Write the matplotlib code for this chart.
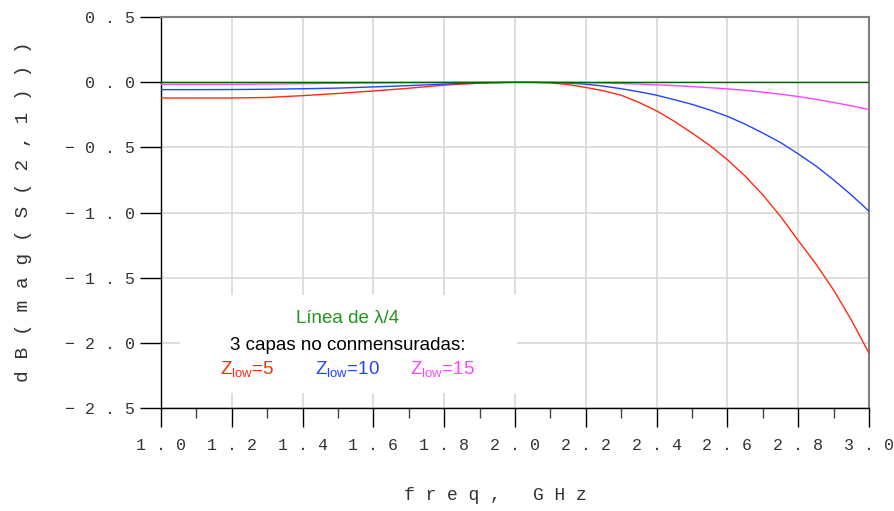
import matplotlib
matplotlib.use("Agg")
from matplotlib import pyplot as plt
from matplotlib.patches import Rectangle
from matplotlib.ticker import FixedLocator, MultipleLocator

# frequency points (GHz): 0.1 steps up to 2.0, 0.05 steps after
freq = [1.0, 1.1, 1.2, 1.3, 1.4, 1.5, 1.6, 1.7, 1.8, 1.9, 2.0,
        2.05, 2.1, 2.15, 2.2, 2.25, 2.3, 2.35, 2.4, 2.45, 2.5,
        2.55, 2.6, 2.65, 2.7, 2.75, 2.8, 2.85, 2.9, 2.95, 3.0]

s21_z5 = [-0.121, -0.121, -0.121, -0.117, -0.103, -0.086, -0.067, -0.046, -0.022, -0.007, 0.0,
          -0.001, -0.005, -0.018, -0.04, -0.066, -0.10, -0.155, -0.22, -0.30, -0.39,
          -0.485, -0.595, -0.72, -0.865, -1.03, -1.215, -1.395, -1.595, -1.825, -2.08]
s21_z10 = [-0.057, -0.057, -0.056, -0.054, -0.050, -0.045, -0.036, -0.026, -0.014, -0.004, 0.0,
           0.0, -0.002, -0.006, -0.015, -0.03, -0.05, -0.073, -0.10, -0.134, -0.17,
           -0.213, -0.262, -0.322, -0.39, -0.463, -0.55, -0.643, -0.75, -0.865, -0.99]
s21_z15 = [-0.016, -0.016, -0.016, -0.014, -0.011, -0.008, -0.005, -0.003, -0.001, 0.0, 0.0,
           0.0, 0.0, -0.001, -0.003, -0.006, -0.01, -0.014, -0.02, -0.026, -0.034,
           -0.042, -0.051, -0.062, -0.076, -0.092, -0.11, -0.131, -0.155, -0.181, -0.21]
s21_lambda4 = [0.0] * len(freq)

xticks = [1.0, 1.2, 1.4, 1.6, 1.8, 2.0, 2.2, 2.4, 2.6, 2.8, 3.0]
xticklabels = ["1 . 0", "1 . 2", "1 . 4", "1 . 6", "1 . 8", "2 . 0",
               "2 . 2", "2 . 4", "2 . 6", "2 . 8", "3 . 0"]
yticks = [-2.5, -2.0, -1.5, -1.0, -0.5, 0.0, 0.5]
yticklabels = ["\u2212 2 . 5", "\u2212 2 . 0", "\u2212 1 . 5", "\u2212 1 . 0",
               "\u2212 0 . 5", "0 . 0", "0 . 5"]

plt.rcParams["mathtext.fontset"] = "custom"
plt.rcParams["mathtext.rm"] = "Liberation Sans"
plt.rcParams["mathtext.it"] = "Liberation Sans:italic"
mono = ["Liberation Mono", "DejaVu Sans Mono"]

fig = plt.figure(figsize=(8.95, 5.11), dpi=100)
ax = fig.add_axes([0.180, 0.2016, 0.791, 0.765])
ax.set_axisbelow(True)

ax.plot(freq, s21_z5, color="#ff2a10", lw=1.0, zorder=3)
ax.plot(freq, s21_z10, color="#2244ff", lw=1.0, zorder=3)
ax.plot(freq, s21_z15, color="#ff44ff", lw=1.0, zorder=3)
ax.plot(freq, s21_lambda4, color="#006400", lw=1.0, zorder=4)

ax.set_xlim(1.0, 3.0)
ax.set_ylim(-2.5, 0.5)
ax.xaxis.set_major_locator(FixedLocator(xticks))
ax.set_xticklabels(xticklabels, family=mono, fontsize=12, color="#333333")
ax.xaxis.set_minor_locator(MultipleLocator(0.1))
ax.yaxis.set_major_locator(FixedLocator(yticks))
ax.set_yticklabels(yticklabels, family=mono, fontsize=12, color="#333333")

ax.tick_params(axis="x", which="major", direction="out", length=13.5, width=1.0,
               color="black", pad=8)
ax.tick_params(axis="x", which="minor", direction="out", length=7, width=1.0,
               color="#444444")
ax.tick_params(axis="y", direction="out", length=15, width=1.0, color="black", pad=4)
ax.yaxis.get_major_ticks()[-1].tick1line.set_color("#808080")

ax.grid(True, which="major", color="#d4d4d4", lw=1.1)
for side in ["left", "bottom"]:
    ax.spines[side].set_color("black")
    ax.spines[side].set_linewidth(1.0)
for side in ["top", "right"]:
    ax.spines[side].set_color("#808080")
    ax.spines[side].set_linewidth(1.5)

fig.text(0.026, 0.585, "d B ( m a g ( S ( 2 , 1 ) ) )", rotation=90,
         ha="center", va="center", family=mono, fontsize=14, color="#333333")
fig.text(0.553, 0.031, "f r e q ,   G H z", ha="center", va="center",
         family=mono, fontsize=13, color="#333333")

# white box behind the annotation
ax.add_patch(Rectangle((0.027, 0.038), 0.476, 0.251, transform=ax.transAxes,
                       facecolor="white", edgecolor="none", zorder=1.5))
sans = ["Liberation Sans", "DejaVu Sans"]
ax.text(0.263, 0.230, "L\u00ednea de \u03bb/4", transform=ax.transAxes, ha="center",
        va="center", fontsize=13.5, color="#1e961e", family=sans, zorder=5)
ax.text(0.263, 0.161, "3 capas no conmensuradas:", transform=ax.transAxes,
        ha="center", va="center", fontsize=13.5, color="black", family=sans, zorder=5)
ax.text(0.122, 0.0997, r"$\mathrm{Z_{low}}$=5", transform=ax.transAxes, ha="center",
        va="center", fontsize=13.5, color="#ff2a10", family=sans, zorder=5)
ax.text(0.263, 0.0997, r"$\mathrm{Z_{low}}$=10", transform=ax.transAxes, ha="center",
        va="center", fontsize=13.5, color="#2244ff", family=sans, zorder=5)
ax.text(0.398, 0.0997, r"$\mathrm{Z_{low}}$=15", transform=ax.transAxes, ha="center",
        va="center", fontsize=13.5, color="#ff44ff", family=sans, zorder=5)

fig.savefig("out.png", dpi=100)
